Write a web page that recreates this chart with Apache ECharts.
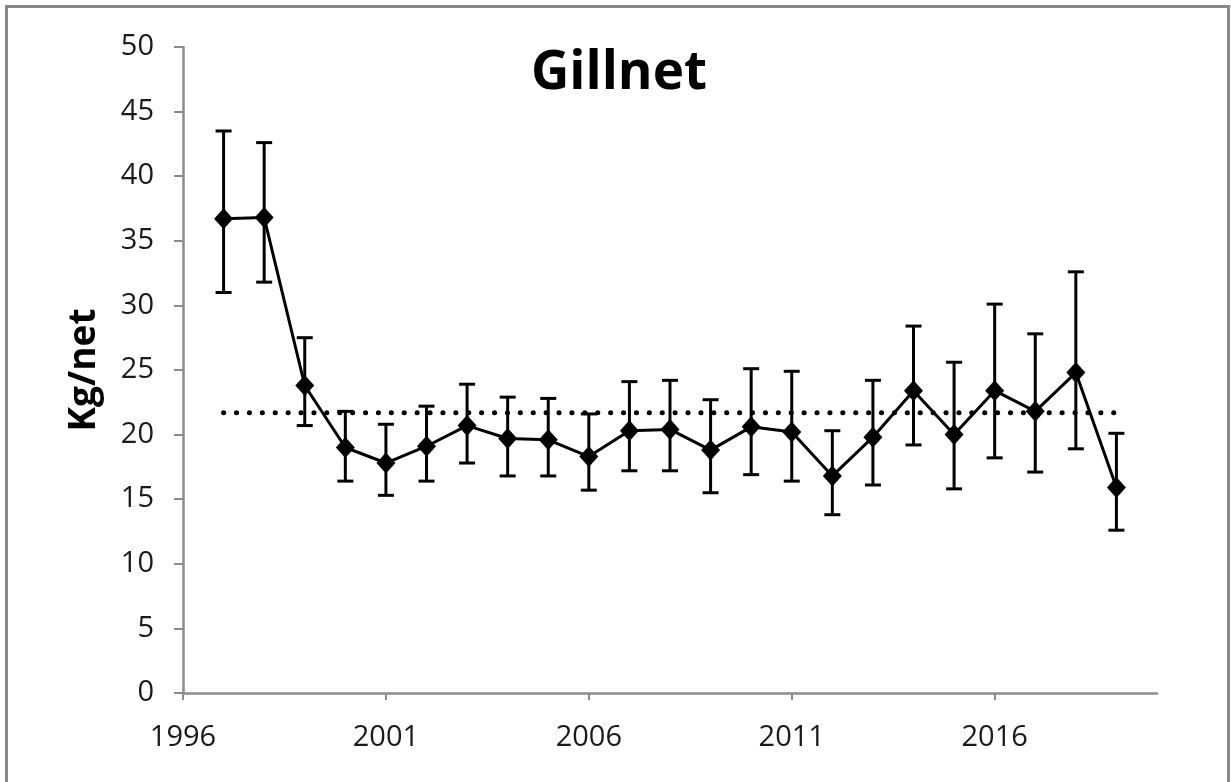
<!DOCTYPE html>
<html>
<head>
<meta charset="utf-8">
<script src="https://cdn.jsdelivr.net/npm/echarts@6/dist/echarts.min.js"></script>
<style>
html, body { margin: 0; padding: 0; background: #fff; }
#main { width: 1231px; height: 782px; }
</style>
</head>
<body>
<div id="main"></div>
<script>
// catch per net, with error bar ends
var years = [1997, 1998, 1999, 2000, 2001, 2002, 2003, 2004, 2005, 2006, 2007, 2008,
             2009, 2010, 2011, 2012, 2013, 2014, 2015, 2016, 2017, 2018, 2019];
var kgNet = [36.7, 36.8, 23.8, 19.0, 17.8, 19.1, 20.7, 19.7, 19.6, 18.3, 20.3, 20.4,
             18.8, 20.6, 20.2, 16.8, 19.8, 23.4, 20.0, 23.4, 21.8, 24.8, 15.9];
var errHigh = [43.5, 42.6, 27.5, 21.8, 20.8, 22.2, 23.9, 22.9, 22.8, 21.6, 24.1, 24.2,
               22.7, 25.1, 24.9, 20.3, 24.2, 28.4, 25.6, 30.1, 27.8, 32.6, 20.1];
var errLow = [31.0, 31.8, 20.7, 16.4, 15.3, 16.4, 17.8, 16.8, 16.8, 15.7, 17.2, 17.2,
              15.5, 16.9, 16.4, 13.8, 16.1, 19.2, 15.8, 18.2, 17.1, 18.9, 12.6];
var meanLine = [[1997, 21.7], [2019, 21.7]];
var xLabels = [1996, 2001, 2006, 2011, 2016];

var myChart = echarts.init(document.getElementById('main'));

var lineData = years.map(function (y, i) { return [y, kgNet[i]]; });
var errData = years.map(function (y, i) { return [y, errLow[i], errHigh[i]]; });

var option = {
    backgroundColor: '#fff',
    animation: false,
    title: {
        text: 'Gillnet',
        left: 614,
        top: 42,
        textAlign: 'center',
        textStyle: { fontFamily: 'Open Sans', fontWeight: 'bold', fontSize: 53, color: '#000' }
    },
    graphic: [{
        type: 'rect',
        shape: { x: 6.5, y: 6.5, width: 1222, height: 800 },
        style: { fill: 'none', stroke: '#888', lineWidth: 3 }
    }],
    grid: { left: 183, right: 74, top: 47, bottom: 89 },
    xAxis: {
        type: 'value',
        min: 1996,
        max: 2020,
        interval: 5,
        splitLine: { show: false },
        axisLine: { lineStyle: { color: '#8c8c8c', width: 2.5 } },
        axisTick: { length: 7, customValues: xLabels, lineStyle: { color: '#8c8c8c', width: 2 } },
        axisLabel: {
            customValues: xLabels,
            margin: 30,
            color: '#1a1a1a',
            fontSize: 29,
            fontFamily: 'Open Sans',
            formatter: function (v) { return String(v); }
        }
    },
    yAxis: {
        type: 'value',
        min: 0,
        max: 50,
        interval: 5,
        name: 'Kg/net',
        nameLocation: 'middle',
        nameGap: 80,
        nameTextStyle: { fontFamily: 'Open Sans', fontWeight: 'bold', fontSize: 37, color: '#000' },
        splitLine: { show: false },
        axisLine: { show: true, lineStyle: { color: '#8c8c8c', width: 2.5 } },
        axisTick: { show: true, length: 9, lineStyle: { color: '#8c8c8c', width: 2 } },
        axisLabel: { margin: 29, color: '#1a1a1a', fontSize: 29, fontFamily: 'Open Sans' }
    },
    series: [
        {
            name: 'mean',
            type: 'line',
            data: meanLine,
            symbol: 'none',
            lineStyle: { color: '#000', width: 5, type: [0.1, 12.8], cap: 'round' },
            z: 1
        },
        {
            name: 'error',
            type: 'custom',
            data: errData,
            renderItem: function (params, api) {
                var x = api.value(0);
                var lo = api.coord([x, api.value(1)]);
                var hi = api.coord([x, api.value(2)]);
                var hw = 8;
                var st = { stroke: '#000', lineWidth: 3 };
                return {
                    type: 'group',
                    children: [
                        { type: 'line', shape: { x1: lo[0], y1: lo[1], x2: hi[0], y2: hi[1] }, style: st },
                        { type: 'line', shape: { x1: hi[0] - hw, y1: hi[1], x2: hi[0] + hw, y2: hi[1] }, style: st },
                        { type: 'line', shape: { x1: lo[0] - hw, y1: lo[1], x2: lo[0] + hw, y2: lo[1] }, style: st }
                    ]
                };
            },
            z: 2
        },
        {
            name: 'Kg/net',
            type: 'line',
            data: lineData,
            symbol: 'diamond',
            symbolSize: [19, 21],
            itemStyle: { color: '#000' },
            lineStyle: { color: '#000', width: 3 },
            z: 3
        }
    ]
};

myChart.setOption(option);
</script>
</body>
</html>
